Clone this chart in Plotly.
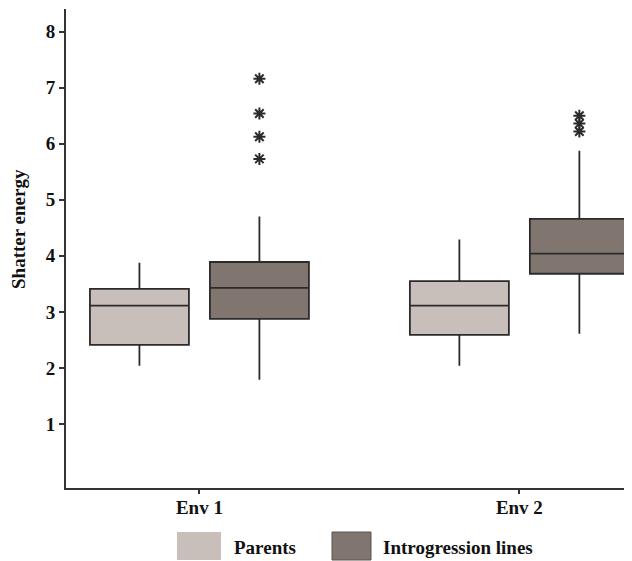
import plotly.graph_objects as go

# ---- data ----
envs = ["Env 1", "Env 2"]

parents_q1 = [2.41, 2.59]
parents_median = [3.11, 3.11]
parents_q3 = [3.41, 3.55]
parents_low = [2.04, 2.04]
parents_high = [3.875, 4.29]

intro_q1 = [2.875, 3.68]
intro_median = [3.43, 4.04]
intro_q3 = [3.89, 4.66]
intro_low = [1.79, 2.61]
intro_high = [4.70, 5.875]
intro_outliers = [[7.16, 6.54, 6.125, 5.73], [6.50, 6.36, 6.22]]

y_ticks = [1, 2, 3, 4, 5, 6, 7, 8]

FONT = "Liberation Serif"
LINE = "#2b2b2b"
C_PAR = "#c8bfba"
C_INT = "#80766f"
FS = 19

fig = go.Figure()
fig.add_trace(go.Box(
    name="Parents", x=envs,
    q1=parents_q1, median=parents_median, q3=parents_q3,
    lowerfence=parents_low, upperfence=parents_high,
    fillcolor=C_PAR, line=dict(color=LINE, width=1.8),
    whiskerwidth=0, boxpoints=False, showlegend=False,
))
fig.add_trace(go.Box(
    name="Introgression lines", x=envs, y=intro_outliers,
    q1=intro_q1, median=intro_median, q3=intro_q3,
    lowerfence=intro_low, upperfence=intro_high,
    fillcolor=C_INT, line=dict(color=LINE, width=1.8),
    whiskerwidth=0, boxpoints="outliers", jitter=0, pointpos=0,
    marker=dict(symbol="asterisk-open", size=10, color=LINE,
                line=dict(color=LINE, width=2)),
    showlegend=False,
))

# page body has an 8px default margin; compensate
OFF = 8
W, H = 632 - OFF, 561 - OFF
L, R, T, B = 66 - OFF, 0, 9 - OFF, 73
pw, ph = W - L - R, H - T - B

def px(x):
    return (x - OFF - L) / pw

def py(y):
    return (H - B - (y - OFF)) / ph

shapes = [
    dict(type="rect", xref="paper", yref="paper",
         x0=px(177), x1=px(221), y0=py(560), y1=py(532),
         fillcolor=C_PAR, line=dict(width=0)),
    dict(type="rect", xref="paper", yref="paper",
         x0=px(332), x1=px(371), y0=py(560), y1=py(532),
         fillcolor=C_INT, line=dict(color="#5a534f", width=1)),
]
annotations = [
    dict(text="<b>Parents</b>", xref="paper", yref="paper",
         x=px(232), y=py(547), xanchor="left", yanchor="middle",
         showarrow=False, font=dict(family=FONT, size=FS, color="#111")),
    dict(text="<b>Introgression lines</b>", xref="paper", yref="paper",
         x=px(381), y=py(547), xanchor="left", yanchor="middle",
         showarrow=False, font=dict(family=FONT, size=FS, color="#111")),
    dict(text="<b>Shatter energy</b>", xref="paper", yref="paper",
         x=px(18), y=py(229), xanchor="center", yanchor="middle",
         textangle=-90, showarrow=False,
         font=dict(family=FONT, size=FS, color="#111")),
]

fig.update_layout(
    width=W, height=H,
    margin=dict(l=L, r=R, t=T, b=B, autoexpand=False),
    paper_bgcolor="white", plot_bgcolor="white",
    boxmode="group", boxgap=0.25, boxgroupgap=0.175,
    shapes=shapes, annotations=annotations,
    font=dict(family=FONT, color="#111"),
)
fig.update_xaxes(
    type="category", range=[-0.417, 1.352], automargin=False,
    showline=True, linecolor="#333", linewidth=2,
    ticks="outside", ticklen=4, tickcolor="#333", tickwidth=1.5,
    showgrid=False, zeroline=False, ticklabelstandoff=-3,
    tickfont=dict(family=FONT, size=FS, color="#111"),
    tickprefix="<b>", ticksuffix="</b>",
)
fig.update_yaxes(
    range=[-0.143, 8.405], automargin=False,
    tickvals=y_ticks, ticktext=[f"<b>{v}</b>" for v in y_ticks],
    showline=True, linecolor="#333", linewidth=2,
    ticks="outside", ticklen=5, tickcolor="#333", tickwidth=1.5,
    showgrid=False, zeroline=False,
    tickfont=dict(family=FONT, size=FS, color="#111"),
)

fig.write_html("out.html")
